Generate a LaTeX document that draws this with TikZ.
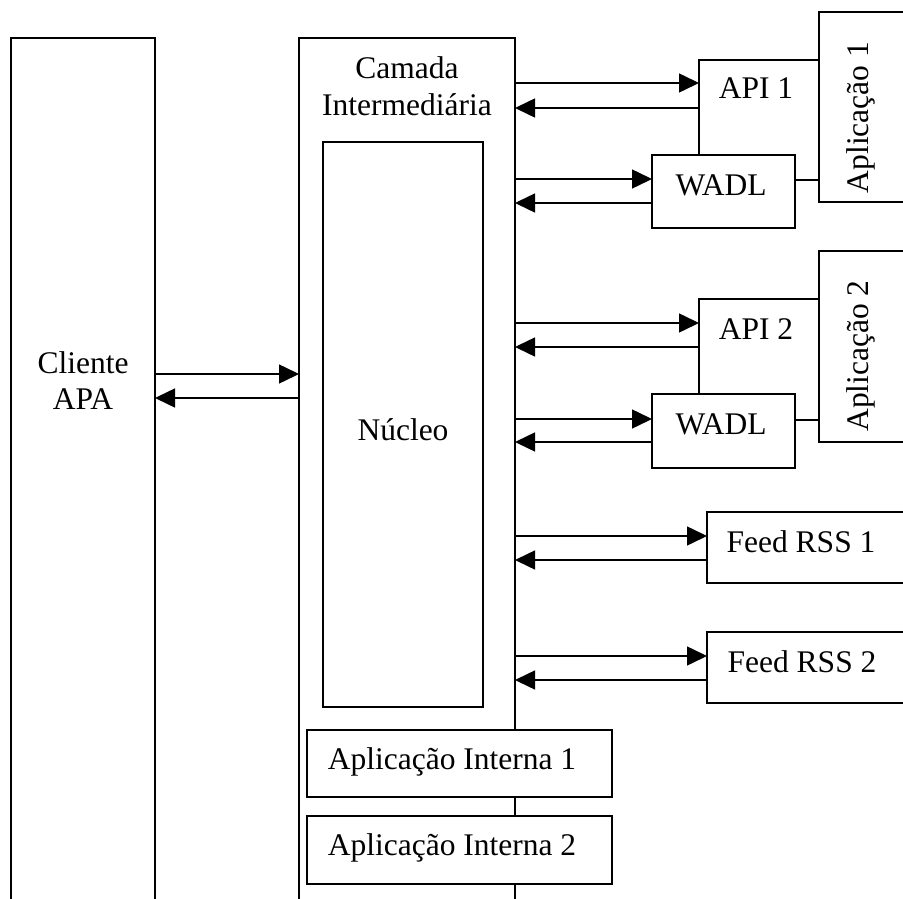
\documentclass[tikz,border=0pt]{standalone}
\usepackage{fontspec}
\setmainfont{Liberation Serif}
\usetikzlibrary{arrows.meta}
\begin{document}
\begin{tikzpicture}[x=1pt,y=-1pt,
  box/.style={draw, line width=1.5pt, fill=white, inner sep=0pt, outer sep=0pt, anchor=north west},
  lbl/.style={inner sep=0pt, anchor=base, font=\fontsize{31.5}{36}\selectfont},
  flow/.style={line width=1.5pt, -{Triangle[length=20pt,width=19pt]}},
]
\useasboundingbox (0,0) rectangle (903,899);
\clip (0,0) rectangle (903,899);

% main columns (run past the lower edge)
\node[box, minimum width=144pt, minimum height=900pt] (cliente) at (11,38) {};
\node[box, minimum width=216pt, minimum height=900pt] (camada) at (299,38) {};
\node[box, minimum width=160pt, minimum height=565pt] (nucleo) at (323,142) {};

% internal applications
\node[box, minimum width=305pt, minimum height=67pt] (ai1) at (307,730) {};
\node[box, minimum width=305pt, minimum height=68pt] (ai2) at (307,816) {};

% external application 1
\node[box, minimum width=120pt, minimum height=120pt] (api1) at (699,60) {};
\node[box, minimum width=143pt, minimum height=73pt] (wadl1) at (652,155) {};
\node[box, minimum width=120pt, minimum height=190pt] (app1) at (819,12) {};

% external application 2
\node[box, minimum width=120pt, minimum height=121pt] (api2) at (699,299) {};
\node[box, minimum width=143pt, minimum height=74pt] (wadl2) at (652,394) {};
\node[box, minimum width=120pt, minimum height=191pt] (app2) at (819,251) {};

% feeds
\node[box, minimum width=250pt, minimum height=71pt] (rss1) at (707,512) {};
\node[box, minimum width=250pt, minimum height=71pt] (rss2) at (707,632) {};

% labels (two-line labels are placed by the baseline of their last line)
\node[lbl, align=center] (tcliente) at (83,409) {Cliente\\APA};
\node[lbl, align=center] (tcamada) at (407,115) {Camada\\Intermediária};
\node[lbl] (tnucleo) at (403,440) {Núcleo};
\node[lbl] (tai1) at (452,769) {Aplicação Interna 1};
\node[lbl] (tai2) at (452,855) {Aplicação Interna 2};
\node[lbl] (tapi1) at (756,99) {API 1};
\node[lbl] (twadl1) at (721,195) {WADL};
\node[lbl] (tapi2) at (756,339) {API 2};
\node[lbl] (twadl2) at (721,434) {WADL};
\node[lbl, rotate=90] (tapp1) at (868,117.5) {Aplicação 1};
\node[lbl, rotate=90] (tapp2) at (868,356) {Aplicação 2};
\node[lbl] (trss1) at (801,552) {Feed RSS 1};
\node[lbl] (trss2) at (802,672) {Feed RSS 2};

% heights of the request / response lines
\coordinate (c1) at (0,374);  \coordinate (c2) at (0,398);
\coordinate (a1) at (0,83);   \coordinate (a2) at (0,108);
\coordinate (w1) at (0,179);  \coordinate (w2) at (0,203);
\coordinate (a3) at (0,323);  \coordinate (a4) at (0,347);
\coordinate (w3) at (0,419);  \coordinate (w4) at (0,442);
\coordinate (r1) at (0,536);  \coordinate (r2) at (0,560);
\coordinate (r3) at (0,656);  \coordinate (r4) at (0,680);

% client <-> middle layer
\draw[flow] (cliente.east |- c1) -- (camada.west |- c1);
\draw[flow] (camada.west |- c2) -- (cliente.east |- c2);

% middle layer <-> services
\draw[flow] (camada.east |- a1) -- (api1.west |- a1);
\draw[flow] (api1.west |- a2) -- (camada.east |- a2);
\draw[flow] (camada.east |- w1) -- (wadl1.west |- w1);
\draw[flow] (wadl1.west |- w2) -- (camada.east |- w2);
\draw[flow] (camada.east |- a3) -- (api2.west |- a3);
\draw[flow] (api2.west |- a4) -- (camada.east |- a4);
\draw[flow] (camada.east |- w3) -- (wadl2.west |- w3);
\draw[flow] (wadl2.west |- w4) -- (camada.east |- w4);
\draw[flow] (camada.east |- r1) -- (rss1.west |- r1);
\draw[flow] (rss1.west |- r2) -- (camada.east |- r2);
\draw[flow] (camada.east |- r3) -- (rss2.west |- r3);
\draw[flow] (rss2.west |- r4) -- (camada.east |- r4);
\end{tikzpicture}
\end{document}
